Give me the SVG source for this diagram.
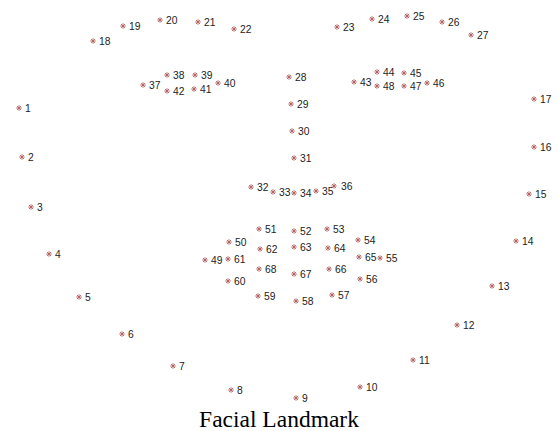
<svg xmlns="http://www.w3.org/2000/svg" xmlns:xlink="http://www.w3.org/1999/xlink" width="558" height="431" viewBox="0 0 558 431">
<style>
.l{font-family:"Liberation Sans",Arial,sans-serif;font-size:10.3px;fill:#222}
.t{font-family:"Liberation Serif","Times New Roman",serif;font-size:23.5px;fill:#000}
.s{stroke:#b05a5a;stroke-width:1;stroke-opacity:0.85;fill:none}
</style>
<defs>
<g id="star" class="s"><path d="M-2.8 0H2.8M0 -2.8V2.8M-2 -2L2 2M-2 2L2 -2"/></g>
</defs>
<rect width="558" height="431" fill="#fff"/>
<g id="connectors"/>
<g id="p1"><use xlink:href="#star" x="19" y="108"/><text class="l" x="25" y="111.5">1</text></g>
<g id="p2"><use xlink:href="#star" x="22" y="157"/><text class="l" x="28" y="160.5">2</text></g>
<g id="p3"><use xlink:href="#star" x="31" y="207"/><text class="l" x="37" y="210.5">3</text></g>
<g id="p4"><use xlink:href="#star" x="49" y="254"/><text class="l" x="55" y="257.5">4</text></g>
<g id="p5"><use xlink:href="#star" x="79" y="297"/><text class="l" x="85" y="300.5">5</text></g>
<g id="p6"><use xlink:href="#star" x="122" y="334"/><text class="l" x="128" y="337.5">6</text></g>
<g id="p7"><use xlink:href="#star" x="173" y="366"/><text class="l" x="179" y="369.5">7</text></g>
<g id="p8"><use xlink:href="#star" x="231" y="390"/><text class="l" x="237" y="393.5">8</text></g>
<g id="p9"><use xlink:href="#star" x="296" y="398"/><text class="l" x="302" y="401.5">9</text></g>
<g id="p10"><use xlink:href="#star" x="360" y="387"/><text class="l" x="366" y="390.5">10</text></g>
<g id="p11"><use xlink:href="#star" x="413" y="360"/><text class="l" x="419" y="363.5">11</text></g>
<g id="p12"><use xlink:href="#star" x="457" y="325"/><text class="l" x="463" y="328.5">12</text></g>
<g id="p13"><use xlink:href="#star" x="492" y="286"/><text class="l" x="498" y="289.5">13</text></g>
<g id="p14"><use xlink:href="#star" x="516" y="241"/><text class="l" x="522" y="244.5">14</text></g>
<g id="p15"><use xlink:href="#star" x="529" y="194"/><text class="l" x="535" y="197.5">15</text></g>
<g id="p16"><use xlink:href="#star" x="534" y="147"/><text class="l" x="540" y="150.5">16</text></g>
<g id="p17"><use xlink:href="#star" x="534" y="99"/><text class="l" x="540" y="102.5">17</text></g>
<g id="p18"><use xlink:href="#star" x="93" y="41"/><text class="l" x="99" y="44.5">18</text></g>
<g id="p19"><use xlink:href="#star" x="123" y="26"/><text class="l" x="129" y="29.5">19</text></g>
<g id="p20"><use xlink:href="#star" x="160" y="20"/><text class="l" x="166" y="23.5">20</text></g>
<g id="p21"><use xlink:href="#star" x="198" y="22"/><text class="l" x="204" y="25.5">21</text></g>
<g id="p22"><use xlink:href="#star" x="234" y="29"/><text class="l" x="240" y="32.5">22</text></g>
<g id="p23"><use xlink:href="#star" x="337" y="27"/><text class="l" x="343" y="30.5">23</text></g>
<g id="p24"><use xlink:href="#star" x="372" y="19"/><text class="l" x="378" y="22.5">24</text></g>
<g id="p25"><use xlink:href="#star" x="407" y="16"/><text class="l" x="413" y="19.5">25</text></g>
<g id="p26"><use xlink:href="#star" x="442" y="22"/><text class="l" x="448" y="25.5">26</text></g>
<g id="p27"><use xlink:href="#star" x="471" y="35"/><text class="l" x="477" y="38.5">27</text></g>
<g id="p28"><use xlink:href="#star" x="289" y="77"/><text class="l" x="295" y="80.5">28</text></g>
<g id="p29"><use xlink:href="#star" x="291" y="104"/><text class="l" x="297" y="107.5">29</text></g>
<g id="p30"><use xlink:href="#star" x="292" y="131"/><text class="l" x="298" y="134.5">30</text></g>
<g id="p31"><use xlink:href="#star" x="294" y="158"/><text class="l" x="300" y="161.5">31</text></g>
<g id="p32"><use xlink:href="#star" x="251" y="187"/><text class="l" x="257" y="190.5">32</text></g>
<g id="p33"><use xlink:href="#star" x="273" y="192"/><text class="l" x="279" y="195.5">33</text></g>
<g id="p34"><use xlink:href="#star" x="294" y="193"/><text class="l" x="300" y="196.5">34</text></g>
<g id="p35"><use xlink:href="#star" x="316" y="191"/><text class="l" x="322" y="194.5">35</text></g>
<g id="p36"><use xlink:href="#star" x="334" y="186"/><text class="l" x="341" y="189.5">36</text></g>
<g id="p37"><use xlink:href="#star" x="143" y="85"/><text class="l" x="149" y="88.5">37</text></g>
<g id="p38"><use xlink:href="#star" x="167" y="75"/><text class="l" x="173" y="78.5">38</text></g>
<g id="p39"><use xlink:href="#star" x="195" y="75"/><text class="l" x="201" y="78.5">39</text></g>
<g id="p40"><use xlink:href="#star" x="218" y="83"/><text class="l" x="224" y="86.5">40</text></g>
<g id="p41"><use xlink:href="#star" x="194" y="89"/><text class="l" x="200" y="92.5">41</text></g>
<g id="p42"><use xlink:href="#star" x="167" y="91"/><text class="l" x="173" y="94.5">42</text></g>
<g id="p43"><use xlink:href="#star" x="354" y="82"/><text class="l" x="360" y="85.5">43</text></g>
<g id="p44"><use xlink:href="#star" x="377" y="72"/><text class="l" x="383" y="75.5">44</text></g>
<g id="p45"><use xlink:href="#star" x="404" y="73"/><text class="l" x="410" y="76.5">45</text></g>
<g id="p46"><use xlink:href="#star" x="427" y="83"/><text class="l" x="433" y="86.5">46</text></g>
<g id="p47"><use xlink:href="#star" x="404" y="86"/><text class="l" x="410" y="89.5">47</text></g>
<g id="p48"><use xlink:href="#star" x="377" y="86"/><text class="l" x="383" y="89.5">48</text></g>
<g id="p49"><use xlink:href="#star" x="205" y="260"/><text class="l" x="211" y="263.5">49</text></g>
<g id="p50"><use xlink:href="#star" x="229" y="242"/><text class="l" x="235" y="245.5">50</text></g>
<g id="p51"><use xlink:href="#star" x="259" y="229"/><text class="l" x="265" y="232.5">51</text></g>
<g id="p52"><use xlink:href="#star" x="294" y="231"/><text class="l" x="300" y="234.5">52</text></g>
<g id="p53"><use xlink:href="#star" x="327" y="229"/><text class="l" x="333" y="232.5">53</text></g>
<g id="p54"><use xlink:href="#star" x="358" y="240"/><text class="l" x="364" y="243.5">54</text></g>
<g id="p55"><use xlink:href="#star" x="380" y="258"/><text class="l" x="386" y="261.5">55</text></g>
<g id="p56"><use xlink:href="#star" x="360" y="279"/><text class="l" x="366" y="282.5">56</text></g>
<g id="p57"><use xlink:href="#star" x="332" y="295"/><text class="l" x="338" y="298.5">57</text></g>
<g id="p58"><use xlink:href="#star" x="296" y="301"/><text class="l" x="302" y="304.5">58</text></g>
<g id="p59"><use xlink:href="#star" x="258" y="296"/><text class="l" x="264" y="299.5">59</text></g>
<g id="p60"><use xlink:href="#star" x="228" y="281"/><text class="l" x="234" y="284.5">60</text></g>
<g id="p61"><use xlink:href="#star" x="228" y="259"/><text class="l" x="234" y="262.5">61</text></g>
<g id="p62"><use xlink:href="#star" x="260" y="249"/><text class="l" x="266" y="252.5">62</text></g>
<g id="p63"><use xlink:href="#star" x="294" y="247"/><text class="l" x="300" y="250.5">63</text></g>
<g id="p64"><use xlink:href="#star" x="328" y="248"/><text class="l" x="334" y="251.5">64</text></g>
<g id="p65"><use xlink:href="#star" x="359" y="257"/><text class="l" x="365" y="260.5">65</text></g>
<g id="p66"><use xlink:href="#star" x="329" y="269"/><text class="l" x="335" y="272.5">66</text></g>
<g id="p67"><use xlink:href="#star" x="294" y="274"/><text class="l" x="300" y="277.5">67</text></g>
<g id="p68"><use xlink:href="#star" x="259" y="269"/><text class="l" x="265" y="272.5">68</text></g>
<text class="t" x="279" y="427" text-anchor="middle">Facial Landmark</text>
</svg>
